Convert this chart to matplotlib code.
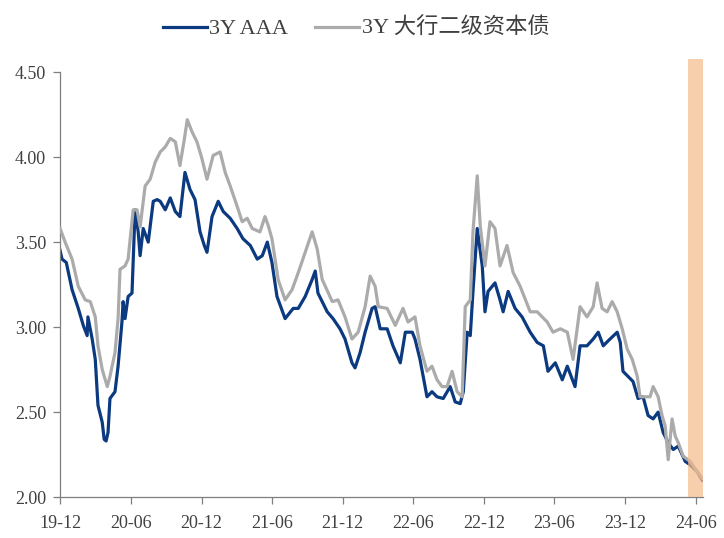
import pandas as pd
import matplotlib
matplotlib.use('Agg')
import matplotlib.pyplot as plt
import matplotlib.dates as mdates

# 3Y AAA (blue)
aaa_dates = ['2019-12-01', '2019-12-06', '2019-12-17', '2020-01-01', '2020-01-17', '2020-01-30',
             '2020-02-09', '2020-02-11', '2020-02-22', '2020-03-01', '2020-03-08', '2020-03-19',
             '2020-03-24', '2020-03-29', '2020-04-03', '2020-04-08', '2020-04-21', '2020-04-29',
             '2020-05-09', '2020-05-12', '2020-05-17', '2020-05-25', '2020-06-04', '2020-06-12',
             '2020-06-20', '2020-06-25', '2020-07-03', '2020-07-16', '2020-07-29', '2020-08-08',
             '2020-08-16', '2020-08-29', '2020-09-11', '2020-09-24', '2020-10-06', '2020-10-19',
             '2020-11-01', '2020-11-14', '2020-11-27', '2020-12-08', '2020-12-15', '2020-12-28',
             '2021-01-13', '2021-01-26', '2021-02-13', '2021-03-03', '2021-03-18', '2021-04-06',
             '2021-04-24', '2021-05-07', '2021-05-20', '2021-06-01', '2021-06-14', '2021-07-05',
             '2021-07-26', '2021-08-08', '2021-08-26', '2021-09-13', '2021-09-21', '2021-09-28',
             '2021-10-22', '2021-11-06', '2021-11-24', '2021-12-07', '2021-12-25', '2022-01-02',
             '2022-01-15', '2022-01-28', '2022-02-15', '2022-02-23', '2022-03-08', '2022-03-26',
             '2022-04-10', '2022-04-29', '2022-05-12', '2022-05-30', '2022-06-06', '2022-06-19',
             '2022-07-07', '2022-07-20', '2022-08-02', '2022-08-18', '2022-09-05', '2022-09-18',
             '2022-10-01', '2022-10-09', '2022-10-19', '2022-10-27', '2022-11-03', '2022-11-14',
             '2022-11-27', '2022-12-04', '2022-12-12', '2022-12-30', '2023-01-12', '2023-01-20',
             '2023-02-02', '2023-02-20', '2023-03-10', '2023-03-31', '2023-04-18', '2023-05-04',
             '2023-05-16', '2023-06-04', '2023-06-22', '2023-07-05', '2023-07-25', '2023-08-07',
             '2023-08-25', '2023-09-10', '2023-09-23', '2023-10-06', '2023-10-19', '2023-11-11',
             '2023-11-19', '2023-11-26', '2023-12-09', '2023-12-22', '2024-01-04', '2024-01-17',
             '2024-01-30', '2024-02-12', '2024-02-25', '2024-03-09', '2024-03-22', '2024-04-04',
             '2024-04-17', '2024-05-05', '2024-05-18', '2024-06-05', '2024-06-18']
aaa = [3.45, 3.40, 3.38, 3.22, 3.11, 3.01,
       2.95, 3.06, 2.93, 2.81, 2.54, 2.44,
       2.34, 2.33, 2.38, 2.58, 2.62, 2.77,
       3.03, 3.15, 3.05, 3.18, 3.20, 3.69,
       3.56, 3.42, 3.58, 3.50, 3.74, 3.75,
       3.74, 3.69, 3.76, 3.68, 3.65, 3.91,
       3.81, 3.75, 3.56, 3.48, 3.44, 3.65,
       3.74, 3.68, 3.64, 3.58, 3.52, 3.48,
       3.40, 3.42, 3.50, 3.38, 3.18, 3.05,
       3.11, 3.11, 3.18, 3.28, 3.33, 3.20,
       3.09, 3.05, 2.99, 2.93, 2.79, 2.76,
       2.85, 2.97, 3.11, 3.12, 2.99, 2.99,
       2.89, 2.79, 2.97, 2.97, 2.93, 2.81,
       2.59, 2.62, 2.59, 2.58, 2.65, 2.56,
       2.55, 2.62, 2.97, 2.95, 3.21, 3.58,
       3.36, 3.09, 3.21, 3.26, 3.16, 3.09,
       3.21, 3.11, 3.06, 2.97, 2.91, 2.89,
       2.74, 2.79, 2.69, 2.77, 2.65, 2.89,
       2.89, 2.93, 2.97, 2.89, 2.92, 2.97,
       2.91, 2.74, 2.71, 2.68, 2.58, 2.59,
       2.48, 2.46, 2.50, 2.38, 2.32, 2.28,
       2.30, 2.21, 2.19, 2.15, 2.10]

# 3Y tier-2 capital bonds of large banks (grey)
tier2_dates = ['2019-12-01', '2019-12-14', '2020-01-01', '2020-01-17', '2020-02-04', '2020-02-17',
               '2020-03-01', '2020-03-08', '2020-03-19', '2020-04-01', '2020-04-08', '2020-04-21',
               '2020-04-29', '2020-05-04', '2020-05-17', '2020-05-25', '2020-06-07', '2020-06-17',
               '2020-06-25', '2020-07-08', '2020-07-21', '2020-08-03', '2020-08-16', '2020-08-29',
               '2020-09-11', '2020-09-24', '2020-10-06', '2020-10-17', '2020-10-25', '2020-11-06',
               '2020-11-19', '2020-12-02', '2020-12-15', '2020-12-31', '2021-01-18', '2021-01-31',
               '2021-02-13', '2021-03-03', '2021-03-16', '2021-03-29', '2021-04-11', '2021-05-01',
               '2021-05-14', '2021-05-22', '2021-06-01', '2021-06-17', '2021-07-05', '2021-07-23',
               '2021-08-08', '2021-08-26', '2021-09-13', '2021-09-26', '2021-10-09', '2021-11-04',
               '2021-11-19', '2021-12-07', '2021-12-25', '2022-01-10', '2022-01-28', '2022-02-10',
               '2022-02-23', '2022-03-03', '2022-03-26', '2022-04-16', '2022-05-06', '2022-05-19',
               '2022-06-06', '2022-06-19', '2022-07-07', '2022-07-20', '2022-08-02', '2022-08-15',
               '2022-08-28', '2022-09-10', '2022-09-23', '2022-10-06', '2022-10-14', '2022-10-27',
               '2022-11-03', '2022-11-14', '2022-11-22', '2022-12-04', '2022-12-17', '2022-12-30',
               '2023-01-12', '2023-01-30', '2023-02-15', '2023-03-05', '2023-03-31', '2023-04-18',
               '2023-05-14', '2023-05-29', '2023-06-17', '2023-07-05', '2023-07-20', '2023-08-07',
               '2023-08-25', '2023-09-10', '2023-09-20', '2023-10-03', '2023-10-16', '2023-10-29',
               '2023-11-11', '2023-11-24', '2023-12-07', '2023-12-20', '2024-01-02', '2024-01-09',
               '2024-01-22', '2024-02-04', '2024-02-12', '2024-02-25', '2024-03-06', '2024-03-14',
               '2024-03-22', '2024-04-01', '2024-04-09', '2024-04-17', '2024-04-30', '2024-05-18',
               '2024-06-05', '2024-06-18']
tier2 = [3.58, 3.50, 3.40, 3.24, 3.16, 3.15,
         3.06, 2.89, 2.75, 2.65, 2.71, 2.85,
         3.05, 3.34, 3.36, 3.40, 3.69, 3.69,
         3.59, 3.83, 3.87, 3.97, 4.03, 4.06,
         4.11, 4.09, 3.95, 4.10, 4.22, 4.15,
         4.09, 3.99, 3.87, 4.01, 4.03, 3.91,
         3.83, 3.71, 3.62, 3.64, 3.58, 3.56,
         3.65, 3.60, 3.52, 3.28, 3.16, 3.22,
         3.32, 3.44, 3.56, 3.46, 3.28, 3.15,
         3.16, 3.06, 2.93, 2.97, 3.12, 3.30,
         3.24, 3.12, 3.11, 3.01, 3.11, 3.03,
         3.06, 2.89, 2.74, 2.77, 2.69, 2.65,
         2.65, 2.74, 2.62, 2.59, 3.12, 3.16,
         3.56, 3.89, 3.59, 3.36, 3.62, 3.58,
         3.36, 3.48, 3.32, 3.24, 3.09, 3.09,
         3.03, 2.97, 2.99, 2.97, 2.81, 3.12,
         3.06, 3.12, 3.26, 3.11, 3.09, 3.15,
         3.09, 2.99, 2.87, 2.81, 2.71, 2.59,
         2.59, 2.59, 2.65, 2.59, 2.48, 2.42,
         2.22, 2.46, 2.36, 2.32, 2.24, 2.21,
         2.15, 2.11]

tick_dates = ['2019-12-01', '2020-06-01', '2020-12-01', '2021-06-01', '2021-12-01',
              '2022-06-01', '2022-12-01', '2023-06-01', '2023-12-01', '2024-06-01']
band_start, band_end = '2024-05-11', '2024-06-20'

plt.rcParams['font.family'] = ['Liberation Serif', 'Noto Sans CJK SC']

fig = plt.figure(figsize=(7.24, 5.38), dpi=100)
ax = fig.add_axes([0.083, 0.076, 0.888, 0.79])

ax.plot(pd.to_datetime(aaa_dates), aaa, color='#0B3A80', lw=2.3, label='3Y AAA', zorder=2)
ax.plot(pd.to_datetime(tier2_dates), tier2, color='#ABABAB', lw=2.3,
        label='3Y 大行二级资本债', zorder=3)

# highlighted recent period, drawn over the lines
ax.axvspan(pd.Timestamp(band_start), pd.Timestamp(band_end), ymin=0, ymax=1.03,
           color='#F6B987', alpha=0.68, lw=0, zorder=4, clip_on=False)

ax.set_xlim(pd.Timestamp('2019-12-01'), pd.Timestamp('2024-06-20'))
ax.set_ylim(2.0, 4.5)
ax.set_yticks([2.0, 2.5, 3.0, 3.5, 4.0, 4.5])
ax.yaxis.set_major_formatter(matplotlib.ticker.FormatStrFormatter('%.2f'))
ax.set_xticks(pd.to_datetime(tick_dates))
ax.xaxis.set_major_formatter(mdates.DateFormatter('%y-%m'))

for s in ['top', 'right']:
    ax.spines[s].set_visible(False)
for s in ['left', 'bottom']:
    ax.spines[s].set_color('#7F7F7F')
    ax.spines[s].set_linewidth(0.9)
ax.tick_params(axis='both', direction='out', length=5, width=0.9, color='#7F7F7F',
               labelsize=13, labelcolor='#404040')
ax.tick_params(axis='x', pad=8)
ax.tick_params(axis='y', pad=5)

ax.legend(loc='lower center', bbox_to_anchor=(0.46, 1.03), ncol=2, frameon=False,
          fontsize=16, handlelength=2.0, handletextpad=0.1, columnspacing=1.2,
          labelcolor='#404040')

fig.savefig('out.png', dpi=100)
